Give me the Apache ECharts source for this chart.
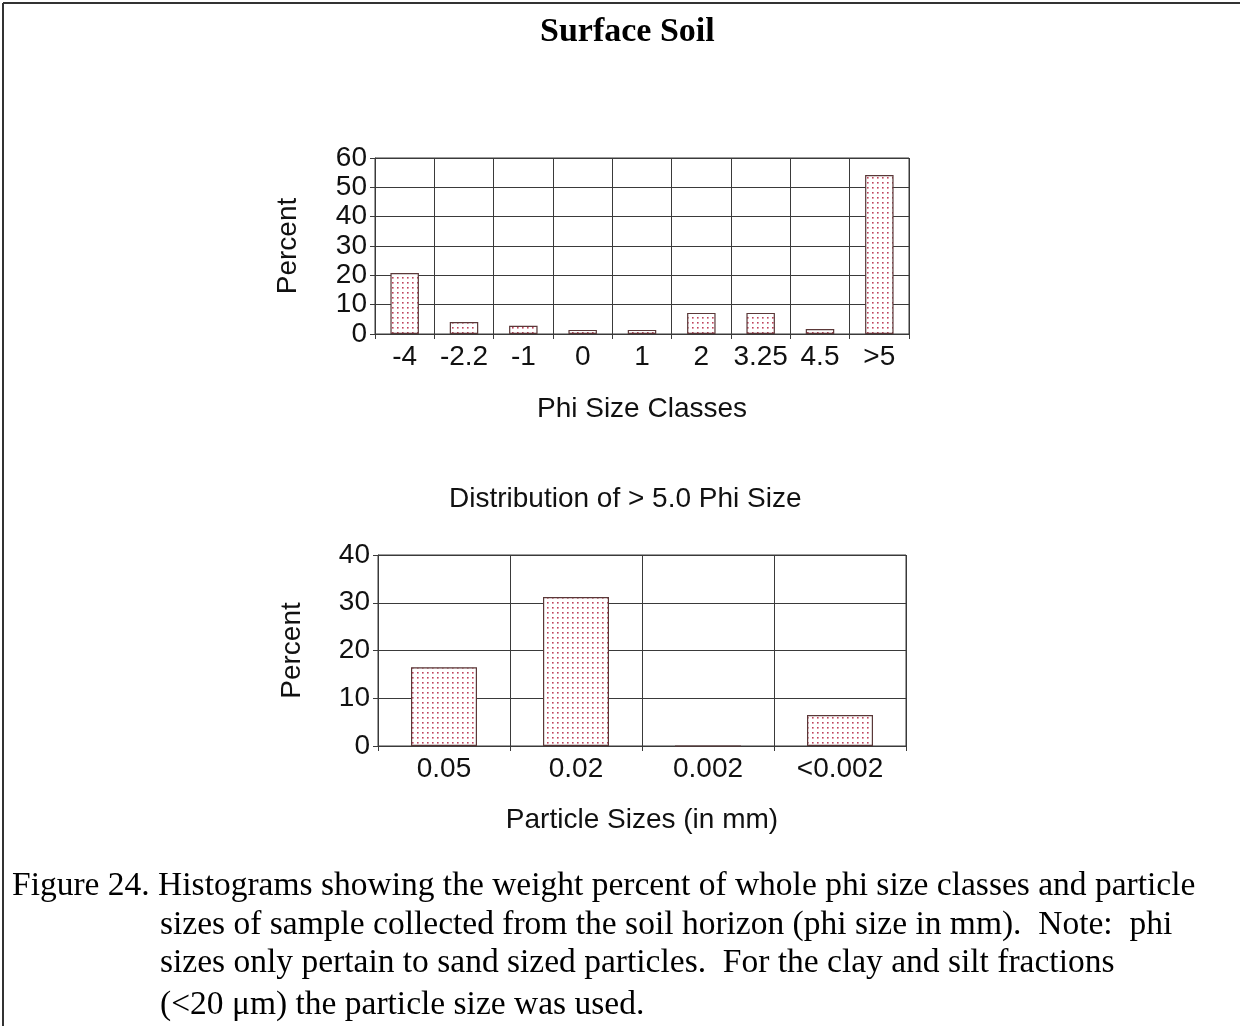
<!DOCTYPE html>
<html>
<head>
<meta charset="utf-8">
<script src="https://cdn.jsdelivr.net/npm/echarts@6/dist/echarts.min.js"></script>
<style>
html,body{margin:0;padding:0;background:#fff;}
#c{width:1240px;height:1026px;}
</style>
</head>
<body>
<div id="c"></div>
<script>
// ---- data ----
const phiCategories = ['-4', '-2.2', '-1', '0', '1', '2', '3.25', '4.5', '>5'];
const phiPercent = [20.8, 4.1, 2.8, 1.4, 1.4, 7.2, 7.2, 1.7, 54.2];
const sizeCategories = ['0.05', '0.02', '0.002', '<0.002'];
const sizePercent = [16.5, 31.2, 0, 6.5];
const phiAxisMax = 60, phiAxisStep = 10;
const sizeAxisMax = 40, sizeAxisStep = 10;
const titleText = 'Surface Soil';
const subTitleText = 'Distribution of > 5.0 Phi Size';
const phiAxisName = 'Phi Size Classes';
const sizeAxisName = 'Particle Sizes (in mm)';
const yName = 'Percent';
const captionLines = [
  'Figure 24. Histograms showing the weight percent of whole phi size classes and particle',
  'sizes of sample collected from the soil horizon (phi size in mm).  Note:  phi',
  'sizes only pertain to sand sized particles.  For the clay and silt fractions',
  '(<20 \u03bcm) the particle size was used.'
];

// ---- dotted fill pattern ----
const pc = document.createElement('canvas');
pc.width = 5; pc.height = 5;
const pctx = pc.getContext('2d');
pctx.fillStyle = '#ffffff';
pctx.fillRect(0, 0, 5, 5);
pctx.fillStyle = '#c0445e';
pctx.fillRect(2, 2, 1.6, 1.6);
const dotFill = { image: pc, repeat: 'repeat' };

const sans = 'Arial, "Liberation Sans", Helvetica, sans-serif';
const serif = '"Times New Roman", "Liberation Serif", serif';
const lineCol = '#3a3a3a';
const fs = 28;

const chart = echarts.init(document.getElementById('c'), null, { renderer: 'canvas' });

function xAxisCfg(idx, cats, name, gap) {
  return {
    type: 'category', gridIndex: idx, data: cats,
    boundaryGap: true,
    axisLine: { show: true, lineStyle: { color: lineCol, width: 1 } },
    axisTick: { show: true, length: 5, alignWithLabel: false, lineStyle: { color: lineCol } },
    axisLabel: { color: '#111', fontFamily: sans, fontSize: fs, margin: 9, interval: 0 },
    splitLine: { show: true, interval: 0, lineStyle: { color: lineCol, width: 1 } },
    name: name, nameLocation: 'middle', nameGap: gap,
    nameTextStyle: { color: '#111', fontFamily: sans, fontSize: fs }
  };
}
function yAxisCfg(idx, max, step, gap) {
  return {
    type: 'value', gridIndex: idx, min: 0, max: max, interval: step,
    axisLine: { show: true, lineStyle: { color: lineCol, width: 1 } },
    axisTick: { show: true, length: 5, lineStyle: { color: lineCol } },
    axisLabel: { color: '#111', fontFamily: sans, fontSize: fs, margin: 8 },
    splitLine: { show: true, lineStyle: { color: lineCol, width: 1 } },
    name: yName, nameLocation: 'middle', nameGap: gap, nameRotate: 90,
    nameTextStyle: { color: '#111', fontFamily: sans, fontSize: fs }
  };
}

const option = {
  backgroundColor: '#ffffff',
  animation: false,
  title: [
    { text: titleText, left: 535, top: 10,
      textStyle: { fontFamily: serif, fontWeight: 'bold', fontSize: 34, color: '#000' } },
    { text: subTitleText, left: 444, top: 480,
      textStyle: { fontFamily: sans, fontWeight: 'normal', fontSize: fs, color: '#111' } }
  ],
  grid: [
    { left: 375, right: 331, top: 158, height: 176, show: true, borderColor: lineCol, borderWidth: 1 },
    { left: 378, right: 334, top: 555, height: 191, show: true, borderColor: lineCol, borderWidth: 1 }
  ],
  xAxis: [
    xAxisCfg(0, phiCategories, phiAxisName, 61),
    xAxisCfg(1, sizeCategories, sizeAxisName, 60)
  ],
  yAxis: [
    yAxisCfg(0, phiAxisMax, phiAxisStep, 73),
    yAxisCfg(1, sizeAxisMax, sizeAxisStep, 72)
  ],
  series: [
    { type: 'bar', xAxisIndex: 0, yAxisIndex: 0, data: phiPercent, barWidth: '48%',
      itemStyle: { color: dotFill, borderColor: '#5a3838', borderWidth: 1.2 } },
    { type: 'bar', xAxisIndex: 1, yAxisIndex: 1, data: sizePercent, barWidth: '50%',
      itemStyle: { color: dotFill, borderColor: '#5a3838', borderWidth: 1.2 } }
  ],
  graphic: [
    { type: 'line', shape: { x1: 3, y1: 3, x2: 1240, y2: 3 }, style: { stroke: '#333', lineWidth: 2 } },
    { type: 'line', shape: { x1: 3, y1: 3, x2: 3, y2: 1026 }, style: { stroke: '#333', lineWidth: 2 } }
  ].concat(captionLines.map(function (t, i) {
    const ys = [886, 925, 963, 1005];
    return { type: 'text', left: i === 0 ? 12 : 160, top: ys[i] - 17,
      style: { text: t, font: '33.5px ' + serif, fill: '#000' } };
  }))
};
chart.setOption(option);
</script>
</body>
</html>
